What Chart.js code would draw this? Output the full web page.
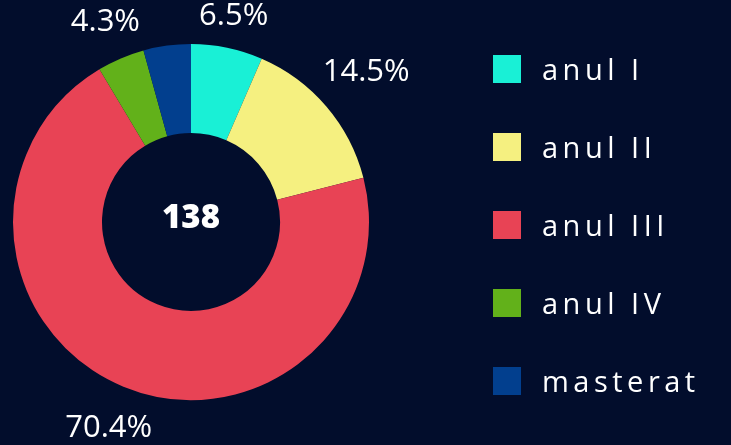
<!DOCTYPE html>
<html>
<head>
<meta charset="utf-8">
<script src="https://cdn.jsdelivr.net/npm/chart.js@4/dist/chart.umd.min.js"></script>
<style>
  html, body { margin: 0; padding: 0; background: #020d2c; }
  #wrap { width: 731px; height: 445px; }
</style>
</head>
<body>
<div id="wrap"><canvas id="c" width="731" height="445"></canvas></div>
<script>
// ---- data ----
const categories = ["anul I", "anul II", "anul III", "anul IV", "masterat"];
const percentValues = [6.5, 14.5, 70.4, 4.3, 4.3];
const showPercentLabel = [true, true, true, true, false];
const totalStudents = 138;
const sliceColors = ["#19f0d6", "#f5f080", "#e84355", "#62b11a", "#023f8e"];

const BG = "#020d2c";

const bgPlugin = {
  id: "bg",
  beforeDraw(chart) {
    const ctx = chart.ctx;
    ctx.save();
    ctx.fillStyle = BG;
    ctx.fillRect(0, 0, chart.width, chart.height);
    ctx.restore();
  }
};

const labelsPlugin = {
  id: "outerLabels",
  afterDatasetsDraw(chart) {
    const ctx = chart.ctx;
    const meta = chart.getDatasetMeta(0);
    ctx.save();
    ctx.fillStyle = "#ffffff";
    ctx.font = "400 31px 'Open Sans'";
    ctx.textAlign = "center";
    ctx.textBaseline = "middle";
    meta.data.forEach((arc, i) => {
      if (!showPercentLabel[i]) return;
      const mid = (arc.startAngle + arc.endAngle) / 2;
      const theta = mid + Math.PI / 2;
      const r = arc.outerRadius + 25 + Math.abs(Math.sin(theta)) * 36;
      const x = arc.x + r * Math.cos(mid);
      let y = arc.y + r * Math.sin(mid);
      if (Math.sin(mid) > 0) y += 6;
      ctx.fillText(percentValues[i].toFixed(1) + "%", x, y);
    });
    // centre total
    const a0 = meta.data[0];
    ctx.font = "800 33px 'Open Sans'";
    ctx.fillText(String(totalStudents), a0.x, a0.y - 3);
    ctx.restore();
  }
};

const legendPlugin = {
  id: "sideLegend",
  afterDraw(chart) {
    const ctx = chart.ctx;
    const ds = chart.data.datasets[0];
    ctx.save();
    ctx.font = "400 29px 'Open Sans'";
    ctx.textAlign = "left";
    ctx.textBaseline = "alphabetic";
    try { ctx.letterSpacing = "4.5px"; } catch (e) {}
    chart.data.labels.forEach((lab, i) => {
      const top = 55 + i * 78;
      ctx.fillStyle = ds.backgroundColor[i];
      ctx.fillRect(493, top, 28, 28);
      ctx.fillStyle = "#ffffff";
      ctx.fillText(lab, 542, top + 24.5);
    });
    ctx.restore();
  }
};

new Chart(document.getElementById("c"), {
  type: "doughnut",
  data: {
    labels: categories,
    datasets: [{
      data: percentValues,
      backgroundColor: sliceColors,
      borderWidth: 0
    }]
  },
  options: {
    responsive: false,
    animation: false,
    cutout: "50%",
    layout: { padding: { left: 13, top: 44, bottom: 45, right: 362 } },
    plugins: {
      legend: { display: false },
      tooltip: { enabled: false }
    }
  },
  plugins: [bgPlugin, labelsPlugin, legendPlugin]
});
</script>
</body>
</html>
